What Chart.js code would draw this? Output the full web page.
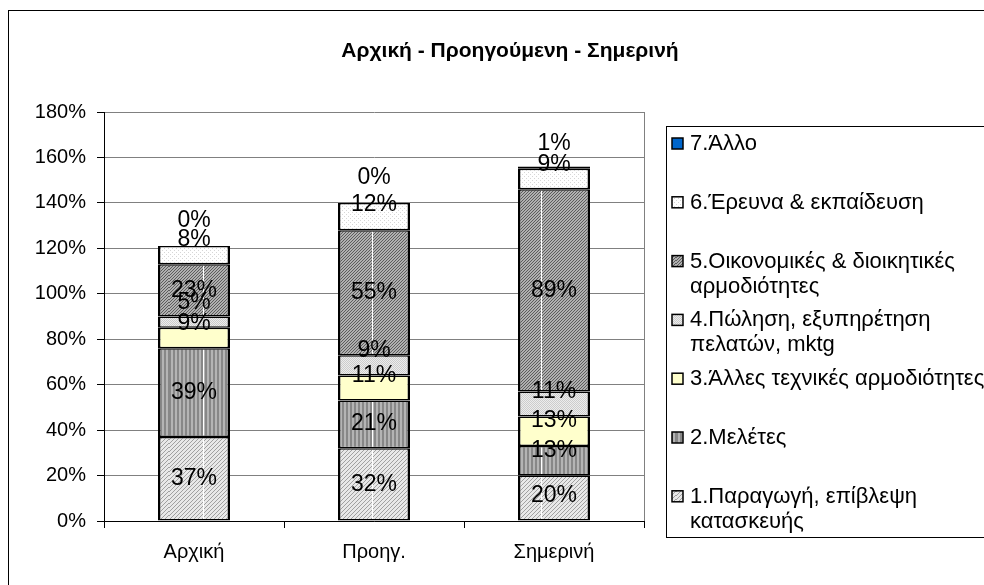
<!DOCTYPE html>
<html>
<head>
<meta charset="utf-8">
<script src="https://cdn.jsdelivr.net/npm/chart.js@4.4.1/dist/chart.umd.min.js"></script>
<style>
  body { margin: 0; background: #fff; }
  canvas { display: block; }
</style>
</head>
<body>
<canvas id="grafica" width="984" height="585"></canvas>
<script>
// categories and series (values in %)
var categorias = ['Αρχική', 'Προηγ.', 'Σημερινή'];
var titulo = 'Αρχική - Προηγούμενη - Σημερινή';
var yTicks = [0, 20, 40, 60, 80, 100, 120, 140, 160, 180];

var serie1 = [37, 32, 20];   // 1.Παραγωγή, επίβλεψη κατασκευής
var serie2 = [39, 21, 13];   // 2.Μελέτες
var serie3 = [9, 11, 13];    // 3.Άλλες τεχνικές αρμοδιότητες
var serie4 = [5, 9, 11];     // 4.Πώληση, εξυπηρέτηση πελατών, mktg
var serie5 = [23, 55, 89];   // 5.Οικονομικές & διοικητικές αρμοδιότητες
var serie6 = [8, 12, 9];     // 6.Έρευνα & εκπαίδευση
var serie7 = [0, 0, 1];      // 7.Άλλο

var nombres = [
    ['1.Παραγωγή, επίβλεψη', 'κατασκευής'],
    ['2.Μελέτες'],
    ['3.Άλλες τεχνικές αρμοδιότητες'],
    ['4.Πώληση, εξυπηρέτηση', 'πελατών, mktg'],
    ['5.Οικονομικές & διοικητικές', 'αρμοδιότητες'],
    ['6.Έρευνα & εκπαίδευση'],
    ['7.Άλλο']
];

Chart.defaults.font.family = "'Liberation Sans', Arial, sans-serif";
Chart.defaults.color = '#000';

// small fill patterns like the old excel ones
function patron(w, h, dibujar) {
    var c = document.createElement('canvas');
    c.width = w; c.height = h;
    var g = c.getContext('2d');
    dibujar(g, w, h);
    return g.createPattern(c, 'repeat');
}
// the hatched fills have a thin white seam every 169px
function costura(g, h) {
    g.fillStyle = '#ffffff';
    g.fillRect(34, 0, 1, h);
}

var relleno1 = patron(169, 4, function(g, w, h) {
    g.fillStyle = '#e8e8e8'; g.fillRect(0, 0, w, h);
    g.fillStyle = '#a0a0a0';
    for (var x = 0; x < w; x++) g.fillRect(x, 3 - (x % 4), 1, 1);
    costura(g, h);
});
var relleno2 = patron(169, 1, function(g, w, h) {
    g.fillStyle = '#b4b4b4'; g.fillRect(0, 0, w, h);
    g.fillStyle = '#878787';
    for (var x = 0; x < w; x += 4) g.fillRect(x, 0, 2, 1);
    costura(g, h);
});
var relleno4 = patron(2, 2, function(g) {
    g.fillStyle = '#ececec'; g.fillRect(0, 0, 2, 2);
    g.fillStyle = '#cccccc'; g.fillRect(0, 0, 1, 1); g.fillRect(1, 1, 1, 1);
});
var relleno5 = patron(169, 3, function(g, w, h) {
    g.fillStyle = '#b0b0b0'; g.fillRect(0, 0, w, h);
    g.fillStyle = '#5c5c5c';
    for (var x = 0; x < w; x++) g.fillRect(x, 2 - (x % 3), 1, 1);
    costura(g, h);
});
var relleno6 = patron(4, 4, function(g) {
    g.fillStyle = '#ffffff'; g.fillRect(0, 0, 4, 4);
    g.fillStyle = '#d6d6d6'; g.fillRect(0, 0, 1, 1); g.fillRect(2, 2, 1, 1);
});

var series = [serie1, serie2, serie3, serie4, serie5, serie6, serie7];
var rellenos = [relleno1, relleno2, '#ffffcc', relleno4, relleno5, relleno6, '#0066cc'];

var datasets = [];
for (let i = 0; i < series.length; i++) {
    datasets.push({
        label: nombres[i].join(' '),
        data: series[i],
        backgroundColor: rellenos[i],
        borderColor: '#000',
        borderWidth: { top: 1.5, bottom: 1.5, left: 2.5, right: 2.5 },
        borderSkipped: false,
        barPercentage: 0.4,
        categoryPercentage: 1.0
    });
}

// border, title, plot frame, labels and legend
var extras = {
    id: 'extras',
    beforeDatasetsDraw: function(chart) {
        var ctx = chart.ctx, a = chart.chartArea;
        ctx.save();
        ctx.strokeStyle = '#808080';
        ctx.lineWidth = 1;
        ctx.beginPath();
        ctx.moveTo(Math.round(a.right) + 0.5, a.top);
        ctx.lineTo(Math.round(a.right) + 0.5, a.bottom);
        ctx.stroke();
        ctx.restore();
    },
    afterDatasetsDraw: function(chart) {
        var ctx = chart.ctx;
        ctx.save();
        ctx.font = "23px 'Liberation Sans', Arial, sans-serif";
        ctx.fillStyle = '#000';
        ctx.textAlign = 'center';
        ctx.textBaseline = 'middle';
        chart.data.datasets.forEach(function(ds, i) {
            chart.getDatasetMeta(i).data.forEach(function(bar, j) {
                var centro = (bar.y + bar.base) / 2;
                var y = Math.min(centro, bar.base - 25);
                ctx.fillText(ds.data[j] + '%', bar.x, y);
            });
        });
        ctx.restore();
    },
    afterDraw: function(chart) {
        var ctx = chart.ctx;
        ctx.save();
        // outer border
        ctx.strokeStyle = '#000';
        ctx.lineWidth = 1;
        ctx.strokeRect(8.5, 10.5, 1000, 600);
        // title
        ctx.font = "bold 21px 'Liberation Sans', Arial, sans-serif";
        ctx.fillStyle = '#000';
        ctx.textAlign = 'center';
        ctx.textBaseline = 'middle';
        ctx.fillText(titulo, 510, 51);
        // legend
        ctx.strokeRect(666.5, 126.5, 340, 411);
        ctx.font = "22px 'Liberation Sans', Arial, sans-serif";
        ctx.textAlign = 'left';
        var n = chart.data.datasets.length;
        for (let k = 0; k < n; k++) {
            var idx = n - 1 - k;
            var y0 = 144 + k * 58.8;
            ctx.fillStyle = chart.data.datasets[idx].backgroundColor;
            ctx.fillRect(672, y0 - 6, 11, 11);
            ctx.lineWidth = 1.5;
            ctx.strokeStyle = '#000';
            ctx.strokeRect(672, y0 - 6, 11, 11);
            ctx.fillStyle = '#000';
            nombres[idx].forEach(function(linea, l) {
                ctx.fillText(linea, 690, y0 + l * 25);
            });
        }
        ctx.restore();
    }
};

var ctx = document.getElementById('grafica').getContext('2d');
var myChart = new Chart(ctx, {
    type: 'bar',
    data: {
        labels: categorias,
        datasets: datasets
    },
    options: {
        responsive: false,
        animation: false,
        layout: {
            padding: { left: 0, top: 112, right: 340, bottom: 0 }
        },
        plugins: {
            legend: { display: false },
            title: { display: false },
            tooltip: { enabled: false }
        },
        scales: {
            x: {
                stacked: true,
                offset: true,
                grid: {
                    offset: true,
                    drawOnChartArea: false,
                    tickLength: 7,
                    tickColor: '#000'
                },
                border: { color: '#000', width: 1 },
                ticks: {
                    font: { size: 20 },
                    color: '#000',
                    padding: 12
                },
                afterFit: function(scale) { scale.height = 64; }
            },
            y: {
                stacked: true,
                min: yTicks[0],
                max: yTicks[yTicks.length - 1],
                afterBuildTicks: function(scale) {
                    scale.ticks = yTicks.map(function(v) { return { value: v }; });
                },
                grid: {
                    color: '#808080',
                    tickLength: 7,
                    tickColor: '#000'
                },
                border: { color: '#000', width: 1 },
                ticks: {
                    font: { size: 20 },
                    color: '#000',
                    padding: 11,
                    callback: function(v) { return v + '%'; }
                },
                afterFit: function(scale) { scale.width = 104; }
            }
        }
    },
    plugins: [extras]
});
</script>
</body>
</html>
